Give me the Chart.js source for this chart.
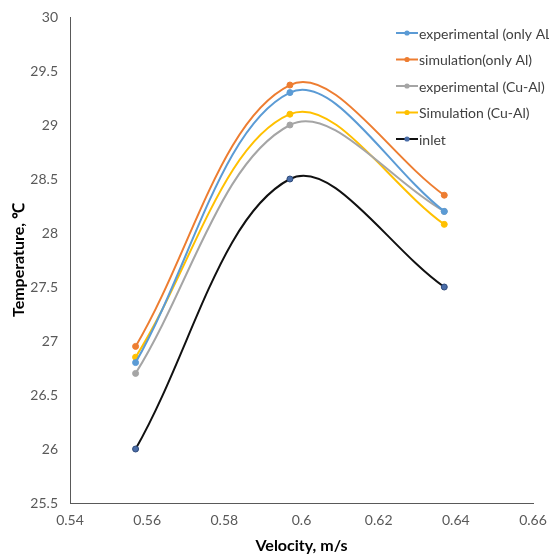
<!DOCTYPE html>
<html>
<head>
<meta charset="utf-8">
<script src="https://cdn.jsdelivr.net/npm/chart.js@4"></script>
<style>
  html, body { margin: 0; padding: 0; background: #fff; }
  #wrap { width: 549px; height: 560px; position: relative; }
</style>
</head>
<body>
<div id="wrap"><canvas id="c" width="549" height="560"></canvas></div>
<script>
// Velocity (m/s) at which each temperature was recorded
const velocities = [0.557, 0.597, 0.637];

// Temperatures (°C)
const expOnlyAl = [26.8, 29.3, 28.2];
const simOnlyAl = [26.95, 29.37, 28.35];
const expCuAl = [26.7, 29.0, 28.2];
const simCuAl = [26.85, 29.1, 28.08];
const inletTemp = [26.0, 28.5, 27.5];

const seriesNames = [
  'experimental (only AL)',
  'simulation(only Al)',
  'experimental (Cu-Al)',
  'Simulation (Cu-Al)',
  'inlet'
];

const xTickLabels = ['0.54', '0.56', '0.58', '0.6', '0.62', '0.64', '0.66'];
const yTickLabels = ['25.5', '26', '26.5', '27', '27.5', '28', '28.5', '29', '29.5', '30'];

const FONT = "Lato, 'Open Sans', 'Liberation Sans', sans-serif";

function toPoints(ys) {
  return velocities.map((v, i) => ({ x: v, y: ys[i] }));
}

function series(label, ys, line, marker, border) {
  return {
    label: label,
    data: toPoints(ys),
    borderColor: line,
    backgroundColor: marker,
    pointBackgroundColor: marker,
    pointBorderColor: border || marker,
    pointBorderWidth: 1,
    pointRadius: 3,
    borderWidth: 2,
    tension: 0.36,
    fill: false
  };
}

const datasets = [
  series(seriesNames[0], expOnlyAl, '#5B9BD5', '#5B9BD5'),
  series(seriesNames[1], simOnlyAl, '#ED7D31', '#ED7D31'),
  series(seriesNames[2], expCuAl, '#A5A5A5', '#A5A5A5'),
  series(seriesNames[3], simCuAl, '#FFC000', '#FFC000'),
  series(seriesNames[4], inletTemp, '#111111', '#4A6DA8', '#2E4A7A')
];

// Legend drawn inside the plot area, top right, Excel style
const insideLegend = {
  id: 'insideLegend',
  afterDraw(chart) {
    const ctx = chart.ctx;
    const x0 = 396, y0 = 33, gap = 26.5;
    ctx.save();
    ctx.font = '14px ' + FONT;
    ctx.textBaseline = 'middle';
    ctx.textAlign = 'left';
    chart.data.datasets.forEach((ds, i) => {
      const y = y0 + i * gap;
      ctx.strokeStyle = ds.borderColor;
      ctx.lineWidth = 2;
      ctx.beginPath();
      ctx.moveTo(x0, y);
      ctx.lineTo(x0 + 22, y);
      ctx.stroke();
      ctx.fillStyle = ds.pointBackgroundColor;
      ctx.beginPath();
      ctx.arc(x0 + 11, y, 2.6, 0, Math.PI * 2);
      ctx.fill();
      ctx.fillStyle = '#404040';
      ctx.fillText(ds.label, x0 + 23, y + 1);
    });
    ctx.restore();
  }
};

new Chart(document.getElementById('c'), {
  type: 'line',
  data: { datasets: datasets },
  plugins: [insideLegend],
  options: {
    responsive: false,
    animation: false,
    layout: { padding: { top: 17, right: 16, left: 0, bottom: 0 } },
    plugins: {
      legend: { display: false },
      tooltip: { enabled: false }
    },
    scales: {
      x: {
        type: 'linear',
        min: 0.54,
        max: 0.66,
        ticks: {
          stepSize: 0.02,
          color: '#595959',
          font: { family: FONT, size: 14 },
          padding: 9,
          maxRotation: 0,
          callback: (v, i) => xTickLabels[i]
        },
        grid: { display: false, drawTicks: false },
        border: { display: true, color: '#595959', width: 1 },
        title: {
          display: true,
          text: 'Velocity, m/s',
          color: '#000',
          font: { family: FONT, size: 16, weight: 'bold' },
          padding: { top: 2, bottom: 5 }
        },
        afterFit(s) {
          s.height = 57;
          s.paddingLeft = 0;
          s.paddingRight = 0;
        }
      },
      y: {
        type: 'linear',
        min: 25.5,
        max: 30,
        ticks: {
          stepSize: 0.5,
          color: '#595959',
          font: { family: FONT, size: 14 },
          padding: 12,
          callback: (v, i) => yTickLabels[i]
        },
        grid: { display: false, drawTicks: false },
        border: { display: true, color: '#595959', width: 1 },
        title: {
          display: true,
          text: 'Temperature, ℃',
          color: '#000',
          font: { family: FONT, size: 16, weight: 'bold' },
          padding: { top: 9, bottom: 6 }
        },
        afterFit(s) {
          s.width = 70;
          s.paddingTop = 0;
          s.paddingBottom = 0;
        }
      }
    }
  }
});
</script>
</body>
</html>
